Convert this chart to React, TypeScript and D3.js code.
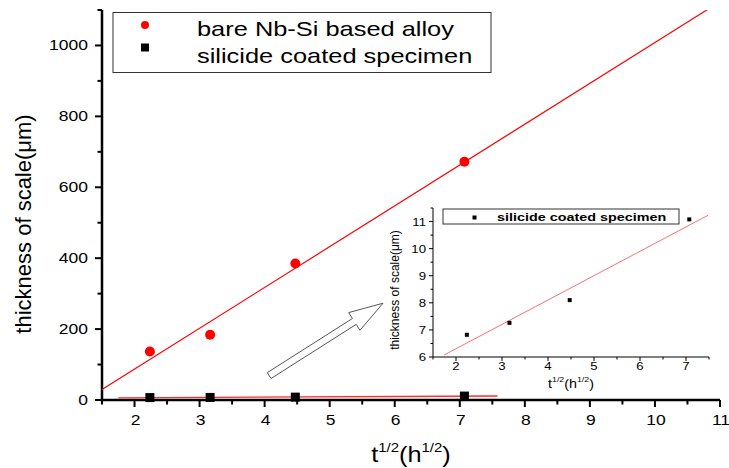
import React from "react";
import * as d3 from "d3";

// t^(1/2) for 5, 10, 20 and 50 h
const timeRoot = [2.236, 3.162, 4.472, 7.071];
const bareThickness = [137, 184, 385, 672];
const coatedThickness = [6.82, 7.26, 8.1, 11.08];

const mainXTicks = [2, 3, 4, 5, 6, 7, 8, 9, 10, 11];
const mainYTicks = [0, 200, 400, 600, 800, 1000];
const insetXTicks = [2, 3, 4, 5, 6, 7];
const insetYTicks = [6, 7, 8, 9, 10, 11];

const legendLabels = ["bare Nb-Si based alloy", "silicide coated specimen"];

// arrow pointing at the inset, in main chart units
const arrowFrom = [4.07, 69];
const arrowTo = [5.82, 273];

const FONT = "Liberation Sans, Arial, Helvetica, sans-serif";

const linFit = (xs, ys) => {
  const mx = d3.mean(xs), my = d3.mean(ys);
  let sxy = 0, sxx = 0;
  xs.forEach((x, i) => {
    sxy += (x - mx) * (ys[i] - my);
    sxx += (x - mx) * (x - mx);
  });
  const slope = sxy / sxx;
  return { slope, intercept: my - slope * mx };
};

const Txt = ({ x, y, sx = 1, size, anchor = "start", weight = "normal", children }) => (
  <text
    transform={`translate(${x},${y}) scale(${sx},1)`}
    fontSize={size}
    textAnchor={anchor}
    fontWeight={weight}
    fontFamily={FONT}
    fill="#000"
  >
    {children}
  </text>
);

const minorOf = (lo, hi, step, majors) =>
  d3.range(lo, hi + step / 2, step).filter((v) => !majors.some((m) => Math.abs(m - v) < 1e-6));

const App = () => {
  const width = 729, height = 468;

  // main chart
  const x = d3.scaleLinear().domain([1.5, 11]).range([102, 720]);
  const y = d3.scaleLinear().domain([0, 1100]).range([400, 10]);
  // inset
  const ix = d3.scaleLinear().domain([1.5, 7.5]).range([433, 709]);
  const iy = d3.scaleLinear().domain([6, 11.5]).range([357, 208]);

  const bareFit = linFit(timeRoot, bareThickness);
  const coatedFit = linFit(timeRoot, coatedThickness);

  const line = (sx, sy) => d3.line().x((d) => sx(d[0])).y((d) => sy(d[1]));
  const fitPts = (f, a, b) => [[a, f.intercept + f.slope * a], [b, f.intercept + f.slope * b]];

  const mainXMinor = minorOf(1.5, 10.5, 0.5, mainXTicks);
  const mainYMinor = minorOf(100, 1100, 100, mainYTicks);
  const insetXMinor = minorOf(1.5, 7.5, 0.5, insetXTicks);
  const insetYMinor = minorOf(6.5, 11.5, 0.5, insetYTicks);

  // hollow arrow
  const p0 = [x(arrowFrom[0]), y(arrowFrom[1])];
  const p1 = [x(arrowTo[0]), y(arrowTo[1])];
  const len = Math.hypot(p1[0] - p0[0], p1[1] - p0[1]);
  const u = [(p1[0] - p0[0]) / len, (p1[1] - p0[1]) / len];
  const n = [-u[1], u[0]];
  const shaftW = 7, headW = 21, headL = 34;
  const at = (t, s) => [p0[0] + u[0] * t + n[0] * s, p0[1] + u[1] * t + n[1] * s];
  const arrowPts = [
    at(0, shaftW / 2), at(len - headL, shaftW / 2), at(len - headL, headW / 2), at(len, 0),
    at(len - headL, -headW / 2), at(len - headL, -shaftW / 2), at(0, -shaftW / 2),
  ];

  return (
    <svg width={width} height={height} style={{ position: "absolute", left: 0, top: 0, background: "#fff" }}>
      <defs>
        <clipPath id="mainClip">
          <rect x={102} y={10} width={618} height={390} />
        </clipPath>
      </defs>

      {/* main axes */}
      <g stroke="#000" strokeWidth={2}>
        {mainXTicks.map((t) => <line key={"xt" + t} x1={x(t)} x2={x(t)} y1={400} y2={407} />)}
        {mainXMinor.map((t) => <line key={"xm" + t} x1={x(t)} x2={x(t)} y1={400} y2={404.5} />)}
        {mainYTicks.map((t) => <line key={"yt" + t} x1={95} x2={102} y1={y(t)} y2={y(t)} />)}
        {mainYMinor.map((t) => <line key={"ym" + t} x1={97.5} x2={102} y1={y(t)} y2={y(t)} />)}
      </g>
      <line x1={102} x2={102} y1={10} y2={401.2} stroke="#000" strokeWidth={2.5} />
      <line x1={100.8} x2={720} y1={400} y2={400} stroke="#000" strokeWidth={2.5} />

      {mainXTicks.map((t) => (
        <Txt key={"xl" + t} x={x(t) + 1} y={425} size={14} sx={1.25} anchor="middle">{t}</Txt>
      ))}
      {mainYTicks.map((t) => (
        <Txt key={"yl" + t} x={88} y={y(t) + 5} size={14} sx={1.25} anchor="end">{t}</Txt>
      ))}

      <Txt x={411} y={462} size={22} sx={1.15} anchor="middle">
        t<tspan fontSize={13} dy={-10}>1/2</tspan>
        <tspan fontSize={22} dy={10}>(h</tspan>
        <tspan fontSize={13} dy={-10}>1/2</tspan>
        <tspan fontSize={22} dy={10}>)</tspan>
      </Txt>
      <text transform="translate(31,224) rotate(-90)" fontSize={22} textAnchor="middle" fontFamily={FONT}>
        thickness of scale(μm)
      </text>

      {/* fits */}
      <path d={line(x, y)(fitPts(bareFit, 1.5, 11))} stroke="#ff0000" strokeWidth={1.2} fill="none" clipPath="url(#mainClip)" />
      <path d={line(x, y)(fitPts(coatedFit, 1.75, 7.58))} stroke="#ff2a2a" strokeWidth={1.3} fill="none" />

      {/* data */}
      {timeRoot.map((t, i) => (
        <circle key={"b" + i} cx={x(t)} cy={y(bareThickness[i])} r={5} fill="#ff0000" />
      ))}
      {timeRoot.map((t, i) => (
        <rect key={"c" + i} x={x(t) - 4.5} y={y(coatedThickness[i]) - 4.5} width={9} height={9} fill="#000" />
      ))}

      {/* main legend */}
      <rect x={113} y={12.5} width={378} height={60} fill="#fff" stroke="#333" strokeWidth={1} />
      <circle cx={145} cy={25} r={4} fill="#ff0000" />
      <rect x={141} y={43.5} width={8} height={8} fill="#000" />
      <Txt x={197} y={36} size={21} sx={1.21}>{legendLabels[0]}</Txt>
      <Txt x={197} y={63} size={21} sx={1.21}>{legendLabels[1]}</Txt>

      {/* arrow */}
      <polygon points={arrowPts.map((p) => p.join(",")).join(" ")} fill="#fff" stroke="#555" strokeWidth={1} />

      {/* inset */}
      <g stroke="#000" strokeWidth={1}>
        {insetXTicks.map((t) => <line key={"ixt" + t} x1={ix(t)} x2={ix(t)} y1={357} y2={361} />)}
        {insetXMinor.map((t) => <line key={"ixm" + t} x1={ix(t)} x2={ix(t)} y1={357} y2={359.5} />)}
        {insetYTicks.map((t) => <line key={"iyt" + t} x1={429} x2={433} y1={iy(t)} y2={iy(t)} />)}
        {insetYMinor.map((t) => <line key={"iym" + t} x1={430.5} x2={433} y1={iy(t)} y2={iy(t)} />)}
        <line x1={433} x2={433} y1={208} y2={357} />
        <line x1={433} x2={709} y1={357} y2={357} />
      </g>
      {insetXTicks.map((t) => (
        <Txt key={"ixl" + t} x={ix(t)} y={370} size={11} sx={1.2} anchor="middle">{t}</Txt>
      ))}
      {insetYTicks.map((t) => (
        <Txt key={"iyl" + t} x={426} y={iy(t) + 4} size={11} sx={1.2} anchor="end">{t}</Txt>
      ))}
      <Txt x={571} y={388} size={13} sx={1.1} anchor="middle">
        t<tspan fontSize={8} dy={-6}>1/2</tspan>
        <tspan fontSize={13} dy={6}>(h</tspan>
        <tspan fontSize={8} dy={-6}>1/2</tspan>
        <tspan fontSize={13} dy={6}>)</tspan>
      </Txt>
      <text transform="translate(399,290) rotate(-90)" fontSize={12} textAnchor="middle" fontFamily={FONT}>
        thickness of scale(μm)
      </text>

      <path d={line(ix, iy)(fitPts(coatedFit, 1.74, 7.48))} stroke="#ff7070" strokeWidth={1} fill="none" />
      {timeRoot.map((t, i) => (
        <rect key={"ic" + i} x={ix(t) - 2} y={iy(coatedThickness[i]) - 2} width={4} height={4} fill="#000" />
      ))}

      <rect x={443} y={209} width={236} height={15} fill="#fff" stroke="#333" strokeWidth={1} />
      <rect x={472.5} y={215.5} width={4} height={4} fill="#000" />
      <Txt x={497} y={221} size={11.5} sx={1.25} weight="bold">{legendLabels[1]}</Txt>
    </svg>
  );
};

export default App;
